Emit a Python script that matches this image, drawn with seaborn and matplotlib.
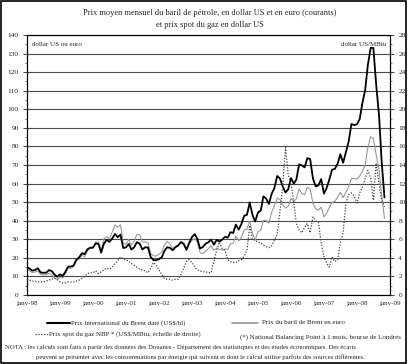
import pandas as pd
import matplotlib
matplotlib.use("Agg")
import matplotlib.pyplot as plt
import matplotlib.dates as mdates
from matplotlib.lines import Line2D
from matplotlib.patches import Rectangle
from matplotlib.ticker import MultipleLocator
import seaborn as sns

# Monthly data, janv-98 to nov-08
brent_usd = [
    15.1, 14.1, 13.1, 13.5, 14.4, 12.1, 12.0, 12.0, 13.4, 12.9, 11.0, 9.8,
    11.1, 10.3, 12.5, 15.3, 15.3, 15.9, 19.0, 20.3, 22.5, 22.0, 24.6, 25.5,
    25.5, 27.8, 27.5, 22.8, 27.6, 29.8, 28.6, 30.4, 32.9, 31.1, 32.5, 25.3,
    25.6, 27.5, 24.5, 25.7, 28.4, 27.7, 24.5, 25.7, 25.6, 20.5, 18.8, 18.7,
    19.4, 20.3, 23.7, 25.7, 25.4, 24.1, 25.7, 26.6, 28.4, 27.5, 24.3, 28.0,
    31.2, 32.8, 30.3, 25.0, 25.8, 27.6, 28.4, 29.8, 27.1, 29.6, 28.8, 29.8,
    31.3, 30.9, 33.8, 33.4, 37.9, 35.2, 38.2, 42.7, 43.2, 49.8, 43.1, 39.6,
    44.5, 45.5, 53.1, 51.9, 49.0, 54.5, 57.5, 64.1, 62.7, 58.5, 55.2, 56.9,
    62.9, 60.0, 62.1, 70.3, 69.8, 68.7, 73.7, 73.2, 62.8, 58.5, 59.0, 62.4,
    54.6, 57.8, 62.1, 67.5, 67.9, 70.6, 75.8, 71.2, 77.0, 82.5, 92.1, 91.5,
    91.9, 94.8, 103.3, 110.4, 123.9, 133.1, 133.0, 113.2, 97.2, 71.6, 52.5,
]
brent_eur = [
    13.9, 12.9, 12.1, 12.4, 13.0, 11.0, 10.9, 10.9, 11.7, 10.9, 9.4, 8.4,
    9.6, 9.2, 11.5, 14.3, 14.4, 15.3, 18.3, 19.2, 21.4, 20.6, 23.9, 25.2,
    25.2, 28.4, 28.6, 24.3, 30.3, 31.4, 30.4, 33.8, 37.8, 36.6, 37.8, 28.1,
    27.2, 29.9, 26.9, 28.9, 32.6, 32.6, 28.5, 28.6, 28.1, 22.5, 21.1, 21.0,
    22.0, 23.3, 26.9, 28.9, 27.6, 25.1, 26.0, 27.1, 29.0, 28.1, 24.3, 27.5,
    29.4, 30.4, 28.1, 22.9, 22.2, 23.6, 24.9, 26.6, 24.0, 25.3, 24.6, 24.2,
    24.8, 24.5, 27.5, 27.8, 31.6, 29.1, 31.1, 35.0, 35.4, 39.8, 33.2, 29.6,
    34.0, 35.0, 40.2, 40.2, 38.6, 44.7, 47.9, 52.1, 51.4, 48.8, 46.8, 47.8,
    52.0, 50.4, 51.8, 57.2, 54.5, 54.1, 58.0, 57.2, 49.4, 46.4, 45.7, 47.3,
    42.0, 44.1, 47.0, 50.0, 50.3, 52.7, 55.3, 52.4, 55.4, 58.1, 62.7, 62.7,
    62.5, 64.1, 66.6, 69.9, 79.4, 85.3, 84.2, 75.5, 67.5, 53.8, 41.3,
]
gas_nbp = [
    1.7, 1.6, 1.5, 1.5, 1.4, 1.4, 1.4, 1.5, 1.6, 1.7, 1.8, 1.7,
    1.4, 1.3, 1.3, 1.4, 1.4, 1.4, 1.5, 1.6, 1.8, 2.0, 2.3, 2.4,
    2.4, 2.6, 2.3, 2.5, 2.7, 2.9, 2.8, 3.0, 3.4, 3.7, 4.1, 3.9,
    3.8, 3.6, 3.4, 3.2, 3.0, 2.8, 2.7, 2.6, 2.4, 2.9, 3.5, 3.2,
    2.7, 2.2, 1.8, 1.7, 1.7, 1.6, 1.7, 1.7, 2.2, 2.9, 3.6, 3.8,
    3.5, 3.0, 2.7, 2.6, 2.5, 2.5, 2.4, 2.4, 3.6, 4.8, 5.7, 5.0,
    4.8, 3.8, 3.6, 3.5, 3.5, 3.7, 3.8, 4.2, 4.8, 7.5, 6.0, 5.9,
    5.7, 5.6, 5.4, 5.2, 5.1, 5.3, 5.9, 6.5, 9.0, 11.6, 15.9, 13.0,
    12.0, 10.0, 7.7, 7.0, 6.7, 7.3, 7.7, 6.7, 8.4, 8.0, 7.8, 5.6,
    4.1, 3.4, 3.0, 4.1, 3.6, 3.8, 5.6, 6.7, 9.9, 10.8, 11.0, 10.7,
    9.9, 11.0, 11.6, 12.5, 13.4, 12.6, 10.2, 14.2, 12.0, 10.2, 9.5,
]
year_labels = ["janv-98", "janv-99", "janv-00", "janv-01", "janv-02", "janv-03",
               "janv-04", "janv-05", "janv-06", "janv-07", "janv-08", "janv-09"]

months = pd.date_range("1998-01-01", periods=len(brent_usd), freq="MS")
df = pd.DataFrame({"mois": months, "brent_usd": brent_usd,
                   "brent_eur": brent_eur, "gaz": gas_nbp})

sns.set_style("white")
plt.rcParams["font.family"] = ["Liberation Serif", "DejaVu Serif"]

fig = plt.figure(figsize=(4.11, 3.64), dpi=100)
ax = fig.add_axes([27 / 411, 1 - 295 / 364, 363 / 411, 260 / 364])
ax2 = ax.twinx()

sns.lineplot(data=df, x="mois", y="brent_eur", ax=ax, color="#9a9a9a", lw=0.8)
sns.lineplot(data=df, x="mois", y="brent_usd", ax=ax, color="black", lw=1.3)
sns.lineplot(data=df, x="mois", y="gaz", ax=ax2, color="#444444", lw=0.9,
             linestyle=(0, (1, 1.3)))

ax.set_ylim(0, 140)
ax2.set_ylim(0, 28)
ax.set_xlim(pd.Timestamp("1998-01-01"), pd.Timestamp("2009-01-01"))
ax.yaxis.set_major_locator(MultipleLocator(10))
ax.yaxis.set_minor_locator(MultipleLocator(5))
ax2.yaxis.set_major_locator(MultipleLocator(2))
ax2.yaxis.set_minor_locator(MultipleLocator(1))
ticks = pd.date_range("1998-01-01", "2009-01-01", freq="YS")
ax.set_xticks(ticks)
ax.set_xticklabels(year_labels)
ax.xaxis.set_minor_locator(mdates.MonthLocator())

ax.grid(axis="y", color="#4a4a4a", lw=0.8)
ax.set_axisbelow(True)
for a in (ax, ax2):
    a.set_xlabel("")
    a.set_ylabel("")
    for s in a.spines.values():
        s.set_color("black")
        s.set_linewidth(0.8)
ax2.grid(False)

ax.tick_params(axis="x", which="major", direction="in", length=4, labelsize=5, pad=4, width=0.7)
ax.tick_params(axis="x", which="minor", direction="in", length=2, width=0.5)
ax.tick_params(axis="y", which="major", direction="out", length=3, labelsize=5.3, pad=3, width=0.6, left=True)
ax.tick_params(axis="y", which="minor", direction="out", length=1.5, width=0.5, left=True)
ax2.tick_params(axis="y", which="major", direction="out", length=3, labelsize=5.3, pad=3, width=0.6, right=True)
ax2.tick_params(axis="y", which="minor", direction="out", length=1.5, width=0.5, right=True)

ax.text(0.015, 0.975, "dollar US ou euro", transform=ax.transAxes, fontsize=5, va="top")
ax.text(0.99, 0.975, "dollar US/MBtu", transform=ax.transAxes, fontsize=5, va="top", ha="right")

fig.text(0.51, 1 - 13 / 364, "Prix moyen mensuel du baril de pétrole, en dollar US et en euro (courants)",
         ha="center", va="center", fontsize=6)
fig.text(0.51, 1 - 25 / 364, "et prix spot du gaz en dollar US", ha="center", va="center", fontsize=6)

# legend
def fy(y):
    return 1 - y / 364

fig.add_artist(Line2D([47 / 411, 70 / 411], [fy(323), fy(323)], color="black", lw=1.5))
fig.text(71 / 411, fy(323), "Prix international du Brent daté (US$/bl)", fontsize=5, va="center")
fig.add_artist(Line2D([232 / 411, 258 / 411], [fy(323), fy(323)], color="#9a9a9a", lw=1.2))
fig.text(262 / 411, fy(323), "Prix du baril de Brent en euro", fontsize=5, va="center")
fig.add_artist(Line2D([35 / 411, 49 / 411], [fy(334), fy(334)], color="#444444", lw=0.9,
                      linestyle=(0, (1, 1.3))))
fig.text(49 / 411, fy(334), "Prix spot du gaz NBP * (US$/MBtu, échelle de droite)", fontsize=5, va="center")
fig.text(240 / 411, fy(337), "(*) National Balancing Point à 1 mois, bourse de Londres", fontsize=5, va="center")
fig.text(5 / 411, fy(347), "NOTA : les calculs sont faits à partir des données des Douanes - Département des "
         "statistiques et des études économiques. Des écarts", fontsize=4.75, va="center")
fig.text(36 / 411, fy(357), "peuvent se présenter avec les consommations par énergie qui suivent et dont le "
         "calcul utilise parfois des sources différentes.", fontsize=4.75, va="center")

fig.patches.append(Rectangle((0.002, 0.003), 0.985, 0.994, transform=fig.transFigure,
                             fill=False, edgecolor="black", lw=1.2))

fig.savefig("out.png", dpi=100)
